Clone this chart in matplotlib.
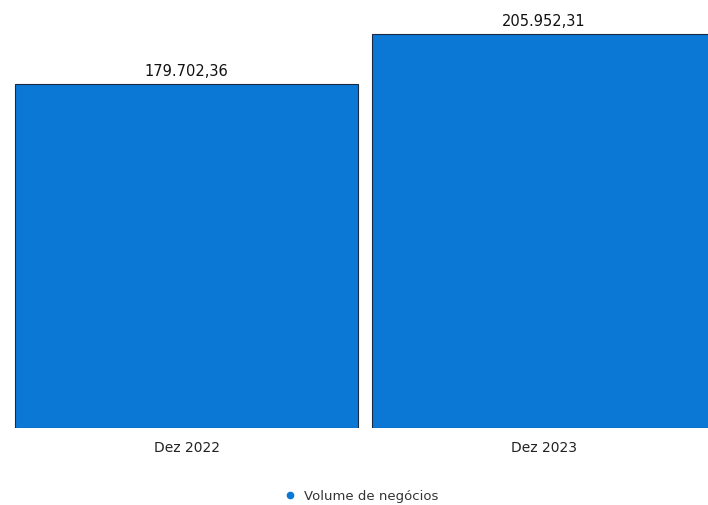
import numpy as np
import matplotlib
matplotlib.use("Agg")
from matplotlib import pyplot as plt
from matplotlib.lines import Line2D

# dados
categorias = ["Dez 2022", "Dez 2023"]
valores = [179702.36, 205952.31]
rotulos = ["179.702,36", "205.952,31"]
serie = "Volume de negócios"

cor = "#0b78d6"

fig = plt.figure(figsize=(7.08, 5.06), dpi=100)
ax = fig.add_axes([0, 77 / 506, 1, 1 - 77 / 506])

x = np.arange(len(categorias))
barras = ax.bar(x, valores, width=0.96, color=cor, edgecolor="#1a2a40", linewidth=0.8)

for b, r in zip(barras, rotulos):
    ax.annotate(r, (b.get_x() + b.get_width() / 2, b.get_height()),
                xytext=(0, 4), textcoords="offset points",
                ha="center", va="bottom", fontsize=10.5, color="#111111")

ax.set_xlim(-0.522, 1.459)
ax.set_ylim(0, 224000)
ax.set_xticks(x)
ax.set_xticklabels(categorias, fontsize=10, color="#222222")
ax.tick_params(axis="x", length=0, pad=9)
ax.set_yticks([])
for s in ax.spines.values():
    s.set_visible(False)

handle = Line2D([], [], marker="o", linestyle="", color=cor, markersize=4.5)
fig.legend([handle], [serie], loc="center", bbox_to_anchor=(0.505, 1 - 497 / 506),
           frameon=False, fontsize=9.5, handletextpad=0.1, labelcolor="#333333")

fig.savefig("out.png", dpi=100)
